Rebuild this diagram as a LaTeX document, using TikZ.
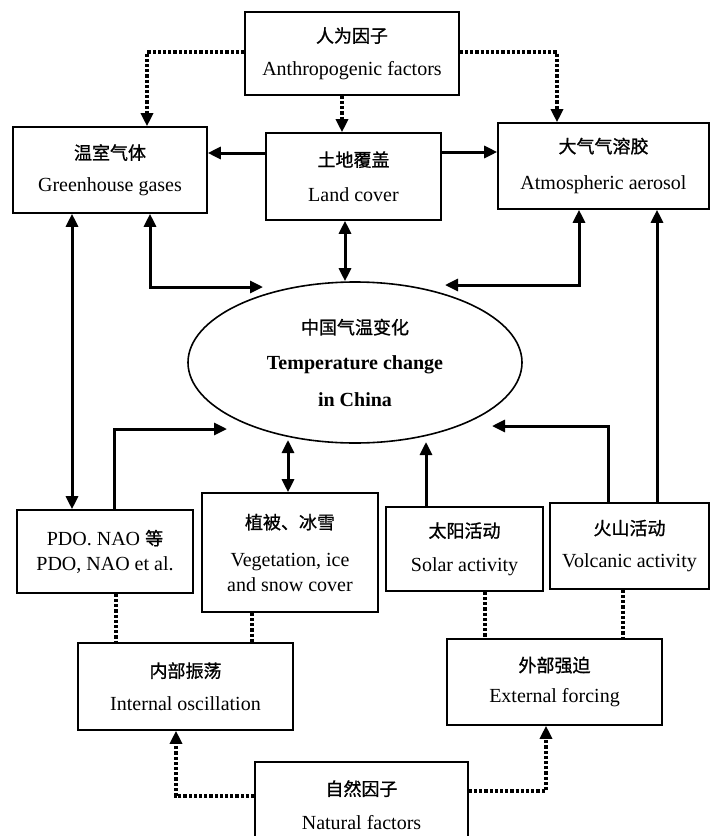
\documentclass[tikz,border=0pt]{standalone}
\usepackage{fontspec}
\setmainfont{Liberation Serif}
\newfontfamily\cjk[FakeBold=1]{Noto Sans CJK SC}
\usetikzlibrary{arrows.meta,shapes.geometric,calc}
\newcommand{\zh}[1]{{\cjk\fontsize{18}{22}\selectfont #1}}
\begin{document}
\begin{tikzpicture}[x=1pt,y=-1pt,
  >={Triangle[length=13pt,width=12pt]},
  box/.style={draw, line width=1.6pt, inner sep=0pt, align=center,
    font=\fontsize{20}{32}\selectfont},
  arr/.style={line width=3pt},
  dotl/.style={line width=3.2pt, dash pattern=on 3.2pt off 2pt}]
\useasboundingbox (0,0) rectangle (711,836);
\clip (0,0) rectangle (711,836);

% nodes
\node[box, minimum width=214pt, minimum height=83pt] (ant) at (352,53.5)
  {\zh{人为因子}\\[1pt]Anthropogenic factors};
\node[box, minimum width=194pt, minimum height=86pt] (gh) at (110,170)
  {\zh{温室气体}\\Greenhouse gases};
\node[box, minimum width=175pt, minimum height=87pt] (land) at (353.5,176.5)
  {\zh{土地覆盖}\\[3pt]Land cover};
\node[box, minimum width=211pt, minimum height=86pt] (aer) at (603.5,166)
  {\zh{大气气溶胶}\\[5pt]Atmospheric aerosol};
\node[draw, ellipse, line width=1.6pt, inner sep=0pt, align=center,
  minimum width=334pt, minimum height=161pt,
  font=\fontsize{20}{32}\selectfont] (ell) at (355,362.5)
  {\zh{中国气温变化}\\[3pt]\textbf{Temperature change}\\[5pt]\textbf{in China}};
\node[box, minimum width=176pt, minimum height=83pt] (pdo) at (105,551.5)
  {PDO. NAO \zh{等}\\[-7pt]PDO, NAO et al.};
\node[box, minimum width=176pt, minimum height=119pt] (veg) at (290,552.5)
  {\zh{植被、冰雪}\\[5pt]Vegetation, ice\\[-7pt]and snow cover};
\node[box, minimum width=157pt, minimum height=84pt] (sol) at (464.5,549)
  {\zh{太阳活动}\\[2pt]Solar activity};
\node[box, minimum width=159pt, minimum height=86pt] (vol) at (629.5,546)
  {\zh{火山活动}\\[1pt]Volcanic activity};
\node[box, minimum width=215pt, minimum height=87pt] (int) at (185.5,686.5)
  {\zh{内部振荡}\\[1pt]Internal oscillation};
\node[box, minimum width=215pt, minimum height=86pt] (ext) at (554.5,682)
  {\zh{外部强迫}\\[-1pt]External forcing};
\node[box, minimum width=213pt, minimum height=86pt] (nat) at (361.5,805)
  {\zh{自然因子}\\[2pt]Natural factors};

% free ends near the ellipse
\coordinate (eGH) at (263,287);
\coordinate (eAE) at (445,285);
\coordinate (eVO) at (492,426);
\coordinate (eSO) at (426,442);
\coordinate (ePD) at (227,429);
\coordinate (eVG) at (288,440);

% anthropogenic dotted arrows
\draw[dotl,->] ([yshift=1.5pt]ant.west) -| ([xshift=37pt]gh.north);
\draw[dotl,->] ([xshift=-10pt]ant.south) -- ([xshift=-10pt]ant.south |- land.north);
\draw[dotl,->] ([yshift=1.5pt]ant.east) -| ([xshift=-46.5pt]aer.north);

% land cover arrows
\draw[arr,->] ([yshift=23.5pt]land.west) -- ([yshift=23.5pt]land.west -| gh.east);
\draw[arr,->] ([yshift=24.5pt]land.east) -- ([yshift=24.5pt]land.east -| aer.west);
\draw[arr,<->] ([xshift=-8.5pt]land.south) -- ([xshift=-8.5pt]land.south |- ell.north);

% greenhouse
\draw[arr,<->] ([xshift=-38pt]gh.south) -- ([xshift=-38pt]gh.south |- pdo.north);
\draw[arr,<->] ([xshift=40pt]gh.south) |- (eGH);

% aerosol
\draw[arr,<->] ([xshift=-24.5pt]aer.south) |- (eAE);

% volcanic
\draw[arr,->] ([xshift=27.5pt]vol.north) -- ([xshift=27.5pt]vol.north |- aer.south);
\draw[arr,->] ([xshift=-21.5pt]vol.north) |- (eVO);

% solar
\draw[arr,->] ([xshift=-38.5pt]sol.north) -- (eSO);

% PDO
\draw[arr,->] ([xshift=9pt]pdo.north) |- (ePD);

% vegetation
\draw[arr,<->] ([xshift=-2pt]veg.north) -- (eVG);

% dotted links to oscillation / forcing
\draw[dotl] ([xshift=11pt]pdo.south) -- ([xshift=11pt]pdo.south |- int.north);
\draw[dotl] ([xshift=-38pt]veg.south) -- ([xshift=-38pt]veg.south |- int.north);
\draw[dotl] ([xshift=20.5pt]sol.south) -- ([xshift=20.5pt]sol.south |- ext.north);
\draw[dotl] ([xshift=-6.5pt]vol.south) -- ([xshift=-6.5pt]vol.south |- ext.north);

% natural factors
\draw[dotl,->] ([yshift=9pt]nat.west) -| ([xshift=-9.5pt]int.south);
\draw[dotl,->] ([yshift=14pt]nat.east) -| ([xshift=-8.5pt]ext.south);
\end{tikzpicture}
\end{document}
